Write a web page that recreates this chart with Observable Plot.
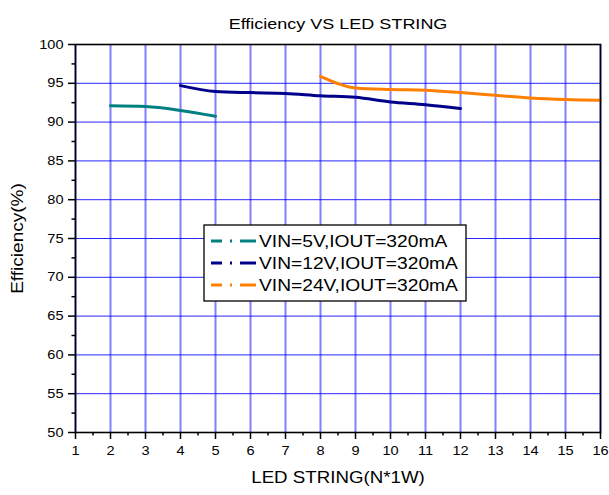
<!DOCTYPE html>
<html><head><meta charset="utf-8">
<script src="https://cdn.jsdelivr.net/npm/d3@7"></script>
<script src="https://cdn.jsdelivr.net/npm/@observablehq/plot@0.6"></script>
<style>body{margin:0;background:#fff;} #chart svg{display:block;}</style>
</head><body><div id="chart"></div>
<script>
// ---- data ----
const strings5 = [2, 3, 4, 5];
const eff5 = [92.1, 92.0, 91.5, 90.75];
const strings12 = [4, 5, 6, 7, 8, 9, 10, 11, 12];
const eff12 = [94.7, 93.95, 93.8, 93.7, 93.4, 93.2, 92.6, 92.25, 91.75];
const strings24 = [8, 9, 10, 11, 12, 13, 14, 15, 16];
const eff24 = [95.9, 94.4, 94.2, 94.1, 93.8, 93.45, 93.1, 92.9, 92.8];
const seriesNames = ["VIN=5V,IOUT=320mA", "VIN=12V,IOUT=320mA", "VIN=24V,IOUT=320mA"];
const seriesColors = ["#008080", "#00008b", "#ff8000"];
const xTicks = d3.range(1, 17);
const xMinor = d3.range(1.5, 16, 1);
const yTicks = d3.range(50, 101, 5);
const yMinor = d3.range(52.5, 100, 5);
const yGrid = d3.range(55, 100, 5);
const titleText = "Efficiency VS LED STRING";
const xLabel = "LED STRING(N*1W)";
const yLabel = "Efficiency(%)";

const rows = [];
[[strings5, eff5], [strings12, eff12], [strings24, eff24]].forEach(([xs, ys], i) =>
  xs.forEach((x, j) => rows.push({series: seriesNames[i], x, y: ys[j]})));

const chart = Plot.plot({
  width: 609, height: 495,
  marginTop: 44, marginRight: 9, marginBottom: 63, marginLeft: 75,
  style: {fontFamily: "'Liberation Sans', Arial, sans-serif", fontSize: "13px", color: "#000", background: "#fff", overflow: "visible"},
  x: {domain: [1, 16]},
  y: {domain: [50, 100]},
  color: {domain: seriesNames, range: seriesColors},
  marks: [
    Plot.ruleX(xTicks, {stroke: "#0000ff", strokeOpacity: 0.5, strokeWidth: 2}),
    Plot.ruleY(yGrid, {stroke: "#0000ff", strokeOpacity: 0.85, strokeWidth: 1}),
    Plot.line(rows, {x: "x", y: "y", z: "series", stroke: "series", strokeWidth: 3, curve: "monotone-x"}),
    Plot.frame({stroke: "#000", strokeWidth: 1.6}),
    Plot.axisX(xTicks, {tickSize: 7, tickPadding: 6, strokeWidth: 1.5, label: null, className: "tickx"}),
    Plot.axisX(xMinor, {tickSize: 3.5, strokeWidth: 1.5, tickFormat: () => "", label: null}),
    Plot.axisY(yTicks, {tickSize: 7, tickPadding: 5, strokeWidth: 1.5, label: null, className: "ticky"}),
    Plot.axisY(yMinor, {tickSize: 3.5, strokeWidth: 1.5, tickFormat: () => "", label: null}),
    Plot.text([titleText], {text: d => d, frameAnchor: "top", dy: -26, fontSize: 15, className: "title"}),
    Plot.text([xLabel], {text: d => d, frameAnchor: "bottom", dy: 50, fontSize: 17, className: "xlab"}),
    Plot.text([yLabel], {text: d => d, frameAnchor: "left", textAnchor: "middle", dx: -58, rotate: -90, fontSize: 16, className: "ylab"})
  ]
});
document.getElementById("chart").append(chart);

// ---- legend ----
const svg = d3.select(chart);
const lg = svg.append("g").attr("font-family", "'Liberation Sans', Arial, sans-serif")
  .attr("font-size", 16).attr("text-anchor", "start");
lg.append("rect").attr("x", 204).attr("y", 225).attr("width", 262).attr("height", 76)
  .attr("fill", "#fff").attr("stroke", "#000").attr("stroke-width", 1.3);
seriesNames.forEach((name, i) => {
  const cy = 241 + i * 22;
  lg.append("line").attr("x1", 211).attr("x2", 256).attr("y1", cy).attr("y2", cy)
    .attr("stroke", seriesColors[i]).attr("stroke-width", 3).attr("stroke-dasharray", "11,8,2,8,16");
  lg.append("text").attr("class", "legtext").attr("x", 259).attr("y", cy).attr("dy", "0.36em")
    .attr("text-anchor", "start").text(name);
});

// ---- horizontal stretch of the text to match the reference ----
function stretch(sel, k) {
  chart.querySelectorAll(sel).forEach(t => {
    const w = t.getComputedTextLength();
    if (w > 0) { t.setAttribute("textLength", w * k); t.setAttribute("lengthAdjust", "spacingAndGlyphs"); }
  });
}
stretch(".title text", 1.2);
stretch(".xlab text", 1.1);
stretch(".ylab text", 1.19);
stretch(".tickx text", 1.12);
stretch(".ticky text", 1.12);
stretch(".legtext", 1.2);
</script></body></html>
